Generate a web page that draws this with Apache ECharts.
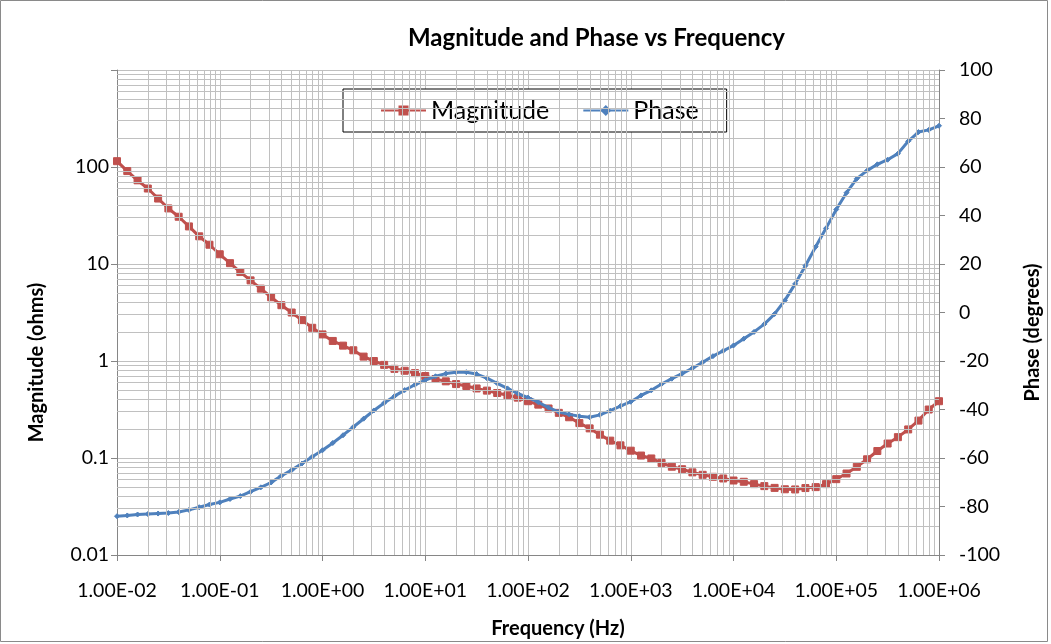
<!DOCTYPE html>
<html>
<head>
<meta charset="utf-8">
<script src="https://cdn.jsdelivr.net/npm/echarts@6/dist/echarts.min.js"></script>
<style>
html,body{margin:0;padding:0;background:#fff;}
#chart{width:1051px;height:644px;}
</style>
</head>
<body>
<div id="chart"></div>
<script>
// Frequencies (Hz), 10 points per decade
const FREQ = [
  0.01, 0.01259, 0.01585, 0.01995, 0.02512, 0.03162, 0.03981, 0.05012, 0.0631, 0.07943,
  0.1, 0.1259, 0.1585, 0.1995, 0.2512, 0.3162, 0.3981, 0.5012, 0.631, 0.7943,
  1, 1.259, 1.585, 1.995, 2.512, 3.162, 3.981, 5.012, 6.31, 7.943,
  10, 12.59, 15.85, 19.95, 25.12, 31.62, 39.81, 50.12, 63.1, 79.43,
  100, 125.9, 158.5, 199.5, 251.2, 316.2, 398.1, 501.2, 631, 794.3,
  1000, 1259, 1585, 1995, 2512, 3162, 3981, 5012, 6310, 7943,
  10000, 12590, 15850, 19950, 25120, 31620, 39810, 50120, 63100, 79430,
  100000, 125900, 158500, 199500, 251200, 316200, 398100, 501200, 631000, 794300,
  1000000
];
// Magnitude (ohms)
const MAGNITUDE = [
  114.8, 90.8, 72.9, 60.0, 47.3, 37.4, 30.7, 24.4, 19.3, 15.8,
  12.6, 10.2, 8.26, 6.78, 5.57, 4.54, 3.76, 3.16, 2.64, 2.20,
  1.88, 1.61, 1.44, 1.29, 1.11, 1.00, 0.912, 0.830, 0.793, 0.750,
  0.700, 0.653, 0.617, 0.578, 0.552, 0.521, 0.495, 0.468, 0.443, 0.419,
  0.385, 0.355, 0.324, 0.292, 0.263, 0.229, 0.202, 0.174, 0.151, 0.135,
  0.119, 0.106, 0.0989, 0.0891, 0.0813, 0.0766, 0.0711, 0.0671, 0.0640, 0.0615,
  0.0586, 0.0569, 0.0538, 0.0513, 0.0492, 0.0476, 0.0474, 0.0490, 0.0501, 0.0538,
  0.0605, 0.0692, 0.0811, 0.0970, 0.118, 0.141, 0.164, 0.197, 0.243, 0.316,
  0.385
];
// Phase (degrees)
const PHASE = [
  -84.0, -83.7, -83.3, -83.1, -82.9, -82.7, -82.3, -81.4, -80.3, -79.2,
  -78.3, -76.9, -75.7, -73.9, -72.1, -70.1, -67.3, -65.0, -62.3, -59.5,
  -56.8, -53.8, -50.6, -47.2, -43.8, -40.4, -37.3, -34.5, -32.0, -29.8,
  -27.9, -26.3, -25.2, -24.6, -24.6, -25.4, -27.1, -29.2, -31.3, -33.4,
  -35.1, -37.0, -39.2, -41.0, -42.0, -42.8, -43.2, -42.2, -40.5, -38.6,
  -36.8, -34.2, -32.1, -29.5, -27.3, -25.2, -23.0, -20.5, -18.0, -15.8,
  -13.6, -10.8, -8.0, -4.8, -0.6, 5.0, 11.8, 19.3, 27.1, 34.7,
  42.5, 49.4, 55.2, 58.5, 61.1, 63.0, 65.5, 70.6, 74.4, 75.3,
  77.0
];
const X_TICKS = ['1.00E-02','1.00E-01','1.00E+00','1.00E+01','1.00E+02','1.00E+03','1.00E+04','1.00E+05','1.00E+06'];
const MAG_TICKS = ['0.01','0.1','1','10','100'];
const PHASE_TICKS = [-100,-80,-60,-40,-20,0,20,40,60,80,100];

const FONT = 'Lato';
const GRIDC = '#c0c0c0';
const AXISC = '#868686';
const RED = '#C0504D';
const BLUE = '#4F81BD';

// log minor gridlines (2..9 within each decade)
const vMinor = [], hMinor = [];
for (let k = -2; k <= 5; k++) for (let m = 2; m <= 9; m++) vMinor.push({ xAxis: m * Math.pow(10, k) });
for (let k = -2; k <= 2; k++) for (let m = 2; m <= 9; m++) hMinor.push({ yAxis: m * Math.pow(10, k) });

function fmtExp(v) {
  const e = Math.round(Math.log10(v));
  return '1.00E' + (e < 0 ? '-' : '+') + String(Math.abs(e)).padStart(2, '0');
}

const chart = echarts.init(document.getElementById('chart'), null, { renderer: 'canvas' });
chart.setOption({
  animation: false,
  backgroundColor: '#fff',
  textStyle: { fontFamily: FONT },
  title: {
    text: 'Magnitude and Phase vs Frequency',
    left: 403, top: 21,
    textStyle: { fontFamily: FONT, fontWeight: 'bold', fontSize: 24, color: '#000' }
  },
  legend: {
    data: ['Magnitude', 'Phase'],
    left: 343, top: 89,
    padding: [9, 28, 9, 37],
    itemGap: 33,
    itemWidth: 45, itemHeight: 10,
    borderColor: '#000', borderWidth: 1,
    backgroundColor: '#fff',
    textStyle: { fontFamily: FONT, fontSize: 25, color: '#000' }
  },
  graphic: [{
    type: 'rect', shape: { x: 0.5, y: 0.5, width: 1047, height: 641 },
    style: { fill: 'none', stroke: '#8a8a8a', lineWidth: 1 }, silent: true
  }],
  grid: { left: 117, right: 105, top: 70, bottom: 86, containLabel: false },
  xAxis: {
    type: 'log', logBase: 10, min: 0.01, max: 1000000,
    name: 'Frequency (Hz)', nameLocation: 'middle', nameGap: 64,
    nameTextStyle: { fontFamily: FONT, fontWeight: 'bold', fontSize: 20, color: '#000', padding: [0, 0, 0, 60] },
    axisLine: { onZero: false, lineStyle: { color: AXISC } },
    axisTick: { show: true, inside: false, length: 6, lineStyle: { color: AXISC } },
    axisLabel: { fontFamily: FONT, fontSize: 19.5, color: '#000', margin: 26, formatter: v => X_TICKS[Math.round(Math.log10(v)) + 2] || fmtExp(v) },
    splitLine: { show: true, lineStyle: { color: GRIDC, width: 1 } }
  },
  yAxis: [{
    type: 'log', logBase: 10, min: 0.01, max: 1000,
    name: 'Magnitude (ohms)', nameLocation: 'middle', nameGap: 70,
    nameTextStyle: { fontFamily: FONT, fontWeight: 'bold', fontSize: 20, color: '#000', padding: [0, 100, 0, 0] },
    axisLine: { show: true, onZero: false, lineStyle: { color: AXISC } },
    axisTick: { show: true, inside: false, length: 6, lineStyle: { color: AXISC } },
    axisLabel: {
      fontFamily: FONT, fontSize: 19.5, color: '#000', margin: 8,
      formatter: v => { const i = Math.round(Math.log10(v)) + 2; return MAG_TICKS[i] || ''; }
    },
    splitLine: { show: true, lineStyle: { color: GRIDC, width: 1 } }
  }, {
    type: 'value', min: -100, max: 100, interval: 20, position: 'right',
    name: 'Phase (degrees)', nameLocation: 'middle', nameGap: 84, nameRotate: 90,
    nameTextStyle: { fontFamily: FONT, fontWeight: 'bold', fontSize: 20, color: '#000', padding: [0, 40, 0, 0] },
    axisLine: { show: true, onZero: false, lineStyle: { color: AXISC } },
    axisTick: { show: true, inside: false, length: 6, lineStyle: { color: AXISC } },
    axisLabel: { fontFamily: FONT, fontSize: 19.5, color: '#000', margin: 20,
      formatter: v => PHASE_TICKS.includes(v) ? String(v) : '' },
    splitLine: { show: false }
  }],
  series: [{
    name: 'grid-minor', type: 'line', xAxisIndex: 0, yAxisIndex: 0, z: 1,
    data: [], silent: true, showSymbol: false,
    markLine: {
      silent: true, symbol: ['none', 'none'], label: { show: false },
      lineStyle: { color: GRIDC, width: 1, type: 'solid' },
      emphasis: { disabled: true },
      data: vMinor.concat(hMinor)
    }
  }, {
    name: 'Magnitude', type: 'line', xAxisIndex: 0, yAxisIndex: 0, z: 3,
    data: FREQ.map((f, i) => [f, MAGNITUDE[i]]),
    symbol: 'rect', symbolSize: 7,
    itemStyle: { color: RED, borderColor: RED, borderWidth: 1, opacity: 1 },
    lineStyle: { color: RED, width: 3 }
  }, {
    name: 'Phase', type: 'line', xAxisIndex: 0, yAxisIndex: 1, z: 4,
    data: FREQ.map((f, i) => [f, PHASE[i]]),
    symbol: 'diamond', symbolSize: 5,
    itemStyle: { color: BLUE, borderColor: BLUE, borderWidth: 1, opacity: 1 },
    lineStyle: { color: BLUE, width: 3 }
  }]
});
</script>
</body>
</html>
